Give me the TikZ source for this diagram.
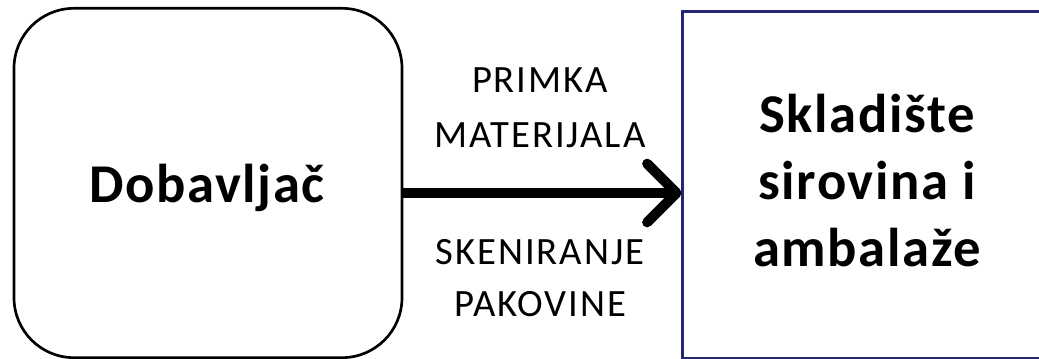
\documentclass[tikz,border=0pt]{standalone}
\usepackage{fontspec}
\setmainfont{Carlito}
\usetikzlibrary{arrows.meta}
\definecolor{boxnavy}{RGB}{38,38,118}
\newfontfamily\bigfont[LetterSpace=3]{Carlito}
\newfontfamily\smallfont[LetterSpace=5]{Carlito}

\begin{document}
\begin{tikzpicture}[x = 0.75pt, y = -0.75pt, font = \fontsize{29}{41}\smallfont]
\tikzset{title/.style = {anchor = base, font = \fontsize{41}{50}\bigfont\bfseries},
  label/.style = {anchor = base}}
\useasboundingbox (0,0) rectangle (1039,359);
\clip (0,0) rectangle (1039,359);
\node [draw, line width = 2pt, rounded corners = 45pt, minimum width = 291pt, minimum height = 262pt] (supplier) at (208,183) {};
\node [draw = boxnavy, line width = 1.8pt, minimum width = 272pt, minimum height = 260pt] (store) at (864,185) {};
\node [title] (suppliername) at (207,203) {Dobavlja\v{c}};
\node [title] (storeA) at (867,133) {Skladi\v{s}te};
\node [title] (storeB) at (867,200) {sirovina i};
\node [title] (storeC) at (867,267) {ambala\v{z}e};
\draw [line width = 7.5pt, -{Straight Barb[length = 22pt, width = 44pt, round]}] (supplier.east |- 0,193) -- (store.west |- 0,193);
\node [label] (receiptA) at (540,93) {PRIMKA};
\node [label] (receiptB) at (540,148) {MATERIJALA};
\node [label] (scanA) at (540,265) {SKENIRANJE};
\node [label] (scanB) at (540,317) {PAKOVINE};
\end{tikzpicture}
\end{document}
